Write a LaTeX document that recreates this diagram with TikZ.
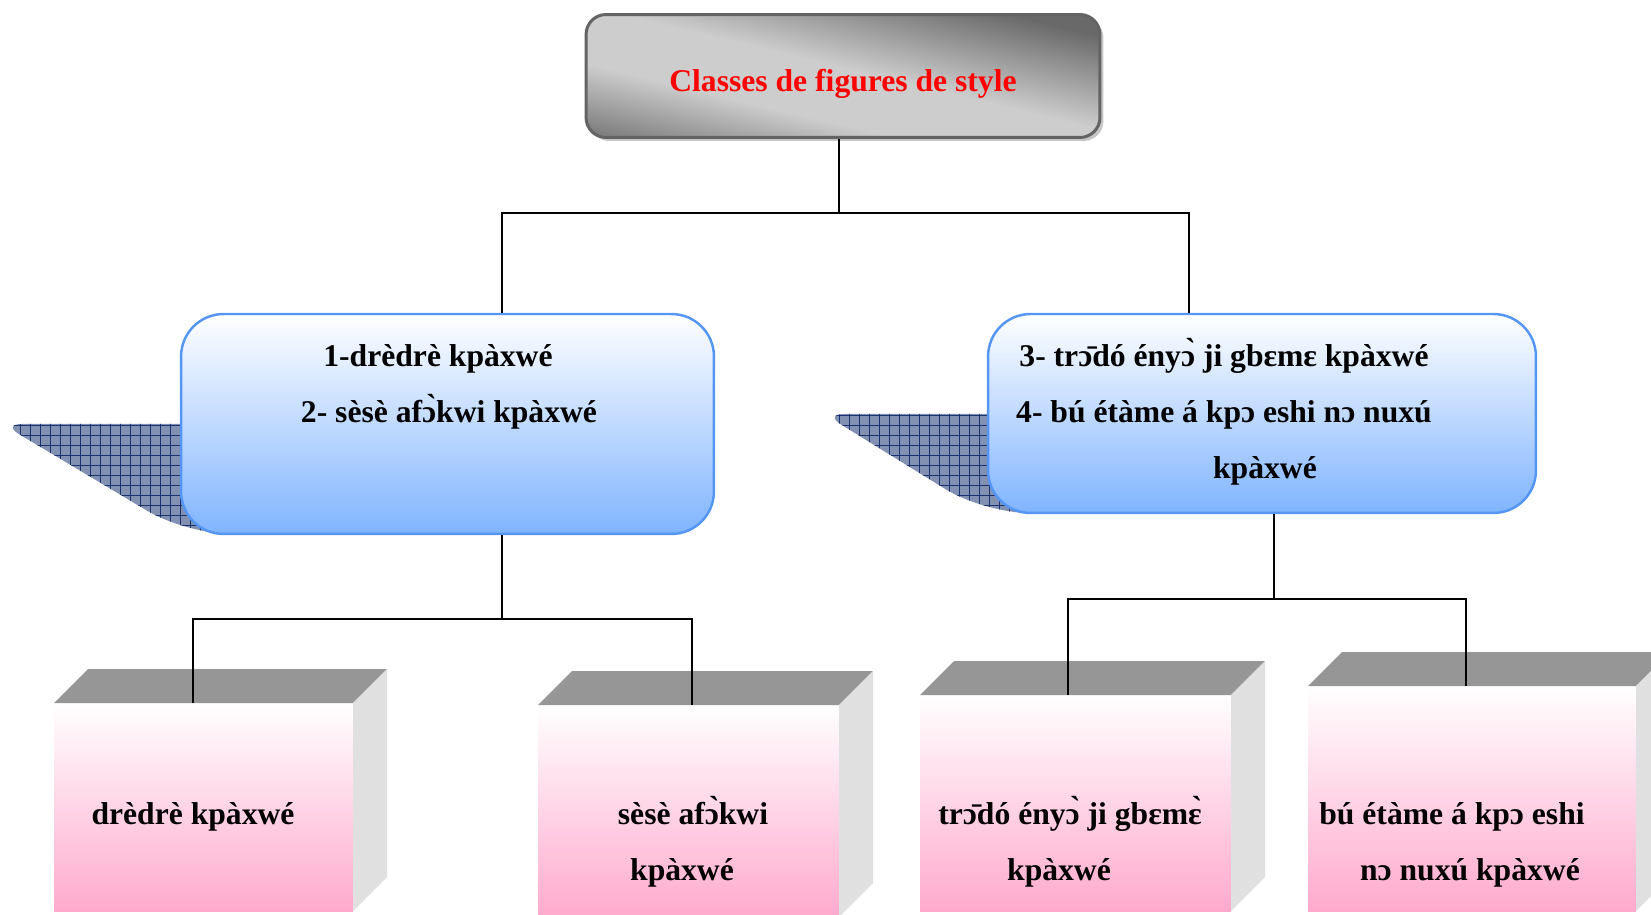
\documentclass[tikz,border=0pt]{standalone}
\usepackage{fontspec}
\setmainfont{Liberation Serif}
\usetikzlibrary{%
    calc,
    patterns.meta,
    positioning,
    shadows
}
\definecolor{titlered}{RGB}{255,0,0}
\definecolor{titleedge}{RGB}{100,100,100}
\definecolor{titledark}{RGB}{105,105,105}
\definecolor{titlelight}{RGB}{205,205,205}
\definecolor{catedge}{RGB}{85,150,245}
\definecolor{catbot}{RGB}{128,180,255}
\definecolor{hatchfill}{RGB}{130,145,178}
\definecolor{hatchline}{RGB}{25,50,110}
\definecolor{cubetop}{RGB}{150,150,150}
\definecolor{cubeside}{RGB}{224,224,224}
\definecolor{cubepink}{RGB}{255,170,205}
\definecolor{cubemid}{RGB}{255,226,237}
\pgfdeclareverticalshading{titleshade}{100bp}{%
    color(0bp)=(titledark); color(17bp)=(titledark); color(38bp)=(titlelight);
    color(52bp)=(titlelight); color(75bp)=(titledark); color(100bp)=(titledark)}
\tikzset{link/.style = {line width=1.1pt}}
\tikzset{boxtext/.style = {font=\fontsize{18}{32}\selectfont\bfseries, align=center}}

\begin{document}
\begin{tikzpicture}[x=0.02cm, y=-0.02cm,
    titlebox/.style = {draw=titleedge, line width=1.7pt, rounded corners=0.4cm,
        shade, shading=titleshade, shading angle=-13.5, text=titlered,
        general shadow={shadow xshift=0.07cm, shadow yshift=-0.07cm, fill=gray!45},
        minimum width=10.28cm, minimum height=2.46cm,
        text height=0.77cm, text depth=0.13cm},
    catbox/.style = {draw=catedge, line width=1.4pt, rounded corners=0.85cm,
        top color=white, bottom color=catbot},
    catshadow/.style = {fill=hatchfill,
        postaction={pattern={Hatch[angle=0, distance=0.2cm, line width=0.5pt]},
            pattern color=hatchline}},
    cubefront/.style = {top color=white, middle color=cubemid, bottom color=cubepink,
        inner sep=0pt, outer sep=0pt, anchor=north west}]
    \useasboundingbox (0,0) rectangle (1651,915);
    \clip (0,0) rectangle (1651,915);

    \node[titlebox, font=\fontsize{18}{22}\selectfont\bfseries] (title) at (843,76) {Classes de figures de style};

    \fill[catshadow] (447,424) [rounded corners=0.4cm] -- (2,424) [rounded corners=0.9cm] -- (186,534) [sharp corners] -- (447,534) -- cycle;
    \fill[catshadow] (1262,414) [rounded corners=0.4cm] -- (824,414) [rounded corners=0.9cm] -- (984,513) [sharp corners] -- (1262,513) -- cycle;

    \node[catbox, minimum width=10.66cm, minimum height=4.4cm] (catA) at (447.5,424) {};
    \node[catbox, minimum width=10.96cm, minimum height=3.98cm] (catB) at (1262,413.5) {};
    \node[boxtext] (catA-text) at (449,387) {1-drèdrè kpàxwé\hspace*{0.44cm}\\2- sèsè afɔ̀kwi kpàxwé};
    \node[boxtext] (catB-text) at (1224,412) {3- trɔ̄dó ényɔ̀ ji gbɛmɛ kpàxwé\\4- bú étàme á kpɔ eshi nɔ nuxú\\\hspace*{1.64cm}kpàxwé};

    \foreach \name/\x/\y/\w/\h in {cubeA/54/703/299/208, cubeB/538/705/301/212, cubeC/920/695/311/216, cubeD/1308/686/328/225} {
        \node[cubefront, minimum width=\w*0.02cm, minimum height=\h*0.02cm] (\name) at (\x,\y) {};
        \fill[cubetop] (\name.north west) -- ++(34,-34) -- ++(\w,0) -- (\name.north east) -- cycle;
        \fill[cubeside] (\name.north east) -- ++(34,-34) -- ++(0,\h) -- (\name.south east) -- cycle;
    }
    \node[boxtext] (cubeA-text) at (193,817) {drèdrè kpàxwé};
    \node[boxtext] (cubeB-text) at (693,842) {sèsè afɔ̀kwi\\kpàxwé\hspace*{0.44cm}};
    \node[boxtext] (cubeC-text) at (1070,842) {trɔ̄dó ényɔ̀ ji gbɛmɛ̀\\kpàxwé\hspace*{0.44cm}};
    \node[boxtext] (cubeD-text) at (1452,845) {bú étàme á kpɔ eshi\\\hspace*{0.72cm}nɔ nuxú kpàxwé};

    \coordinate (hubT) at (839,213);
    \coordinate (hubL) at (502,213);
    \coordinate (hubR) at (1189,213);
    \coordinate (forkA) at (502,619);
    \coordinate (forkB) at (1274,599);
    \coordinate (dropA) at (193,619);
    \coordinate (dropB) at (692,619);
    \coordinate (dropC) at (1068,599);
    \coordinate (dropD) at (1466,599);
    \draw[link] (title.south -| hubT) -- (hubT);
    \draw[link] (catA.north -| hubL) -- (hubL) -- (hubR) -- (catB.north -| hubR);
    \draw[link] (catA.south -| forkA) -- (forkA);
    \draw[link] (cubeA.north -| dropA) -- (dropA) -- (dropB) -- (cubeB.north -| dropB);
    \draw[link] (catB.south -| forkB) -- (forkB);
    \draw[link] (cubeC.north -| dropC) -- (dropC) -- (dropD) -- (cubeD.north -| dropD);
\end{tikzpicture}
\end{document}
